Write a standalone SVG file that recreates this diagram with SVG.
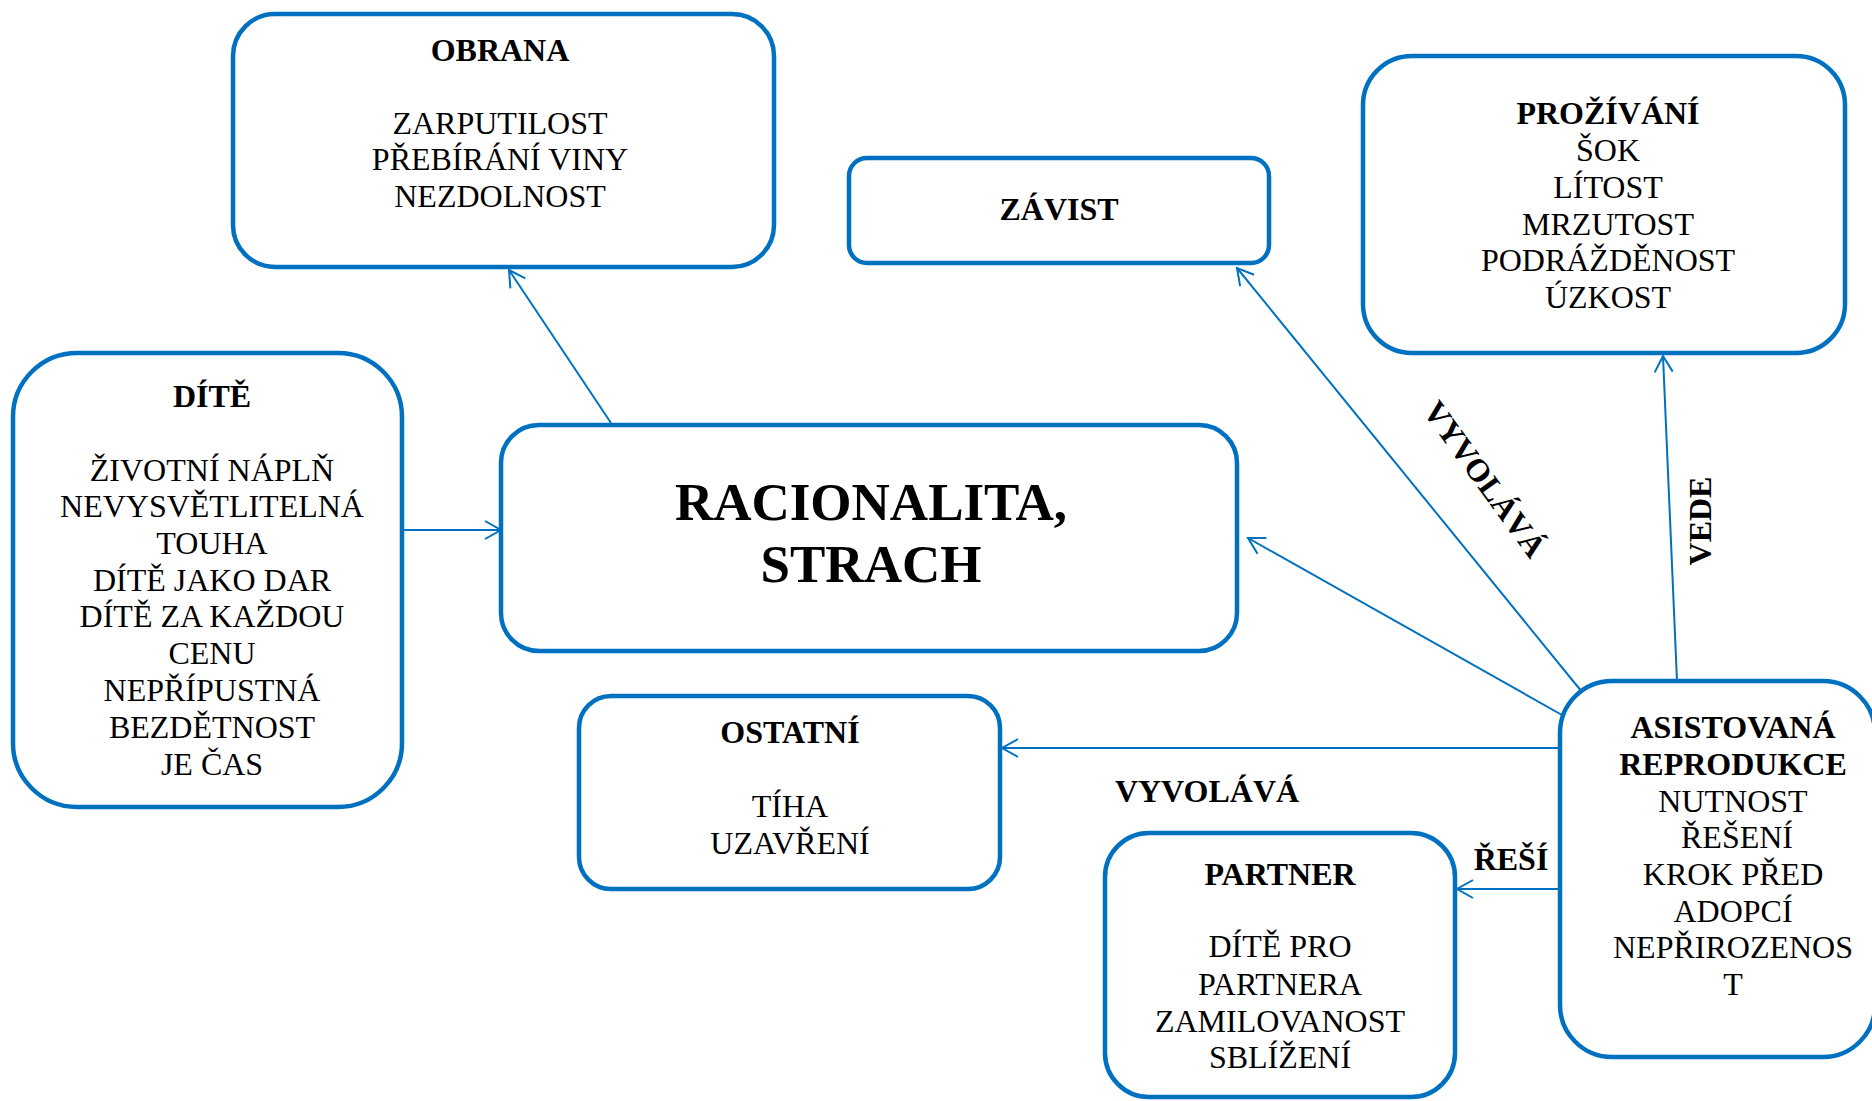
<svg xmlns="http://www.w3.org/2000/svg" width="1872" height="1101" viewBox="0 0 1872 1101" font-family="'Liberation Serif', 'Times New Roman', Tinos, 'DejaVu Serif', serif">
  <style>
    .box { fill: #ffffff; stroke: #0070C0; stroke-width: 4.5; }
    .edge { stroke: #0070C0; stroke-width: 2; fill: none; marker-end: url(#arr); }
    text { font-family: 'Liberation Serif', 'Times New Roman', Tinos, 'DejaVu Serif', serif; fill: #000000; text-anchor: middle; }
    .t { font-size: 32px; font-weight: bold; }
    .b { font-size: 32px; }
    .big { font-size: 53px; font-weight: bold; }
    .lbl { font-size: 32px; font-weight: bold; }
  </style>
  <defs>
    <marker id="arr" viewBox="-20 -12 24 24" refX="0" refY="0" markerWidth="24" markerHeight="24" markerUnits="userSpaceOnUse" orient="auto" overflow="visible">
      <path d="M-16,-9 L0,0 L-16,9" fill="none" stroke="#0070C0" stroke-width="2"/>
    </marker>
  </defs>

  <rect width="1872" height="1101" fill="#ffffff"/>

  <!-- connectors -->
  <g id="connectors">
    <line class="edge" x1="611" y1="423" x2="509" y2="270"/>
    <line class="edge" x1="402" y1="530" x2="501" y2="530"/>
    <line class="edge" x1="1582" y1="692" x2="1237" y2="268"/>
    <line class="edge" x1="1562" y1="715" x2="1248" y2="538"/>
    <line class="edge" x1="1677" y1="681" x2="1663" y2="356"/>
    <line class="edge" x1="1560" y1="748" x2="1002" y2="748"/>
    <line class="edge" x1="1560" y1="889" x2="1457" y2="889"/>
  </g>

  <!-- connector labels -->
  <g id="labels">
    <text class="lbl" transform="translate(1485,479) rotate(54)" x="0" y="11">VYVOLÁVÁ</text>
    <text class="lbl" transform="translate(1700,521) rotate(-90)" x="0" y="11">VEDE</text>
    <text class="lbl" x="1207" y="802">VYVOLÁVÁ</text>
    <text class="lbl" x="1511" y="870">ŘEŠÍ</text>
  </g>

  <!-- nodes -->
  <g id="obrana">
    <rect class="box" x="233" y="14" width="541" height="253" rx="42" ry="42"/>
    <text class="t" x="500" y="61">OBRANA</text>
    <text class="b" x="500" y="134">ZARPUTILOST</text>
    <text class="b" x="500" y="170">PŘEBÍRÁNÍ VINY</text>
    <text class="b" x="500" y="207">NEZDOLNOST</text>
  </g>

  <g id="zavist">
    <rect class="box" x="849" y="158" width="420" height="105" rx="18" ry="18"/>
    <text class="t" x="1059" y="220">ZÁVIST</text>
  </g>

  <g id="prozivani">
    <rect class="box" x="1363" y="56" width="482" height="297" rx="49" ry="49"/>
    <text class="t" x="1608" y="124">PROŽÍVÁNÍ</text>
    <text class="b" x="1608" y="161">ŠOK</text>
    <text class="b" x="1608" y="198">LÍTOST</text>
    <text class="b" x="1608" y="235">MRZUTOST</text>
    <text class="b" x="1608" y="271">PODRÁŽDĚNOST</text>
    <text class="b" x="1608" y="308">ÚZKOST</text>
  </g>

  <g id="dite">
    <rect class="box" x="13" y="353" width="389" height="454" rx="64" ry="64"/>
    <text class="t" x="212" y="407">DÍTĚ</text>
    <text class="b" x="212" y="481">ŽIVOTNÍ NÁPLŇ</text>
    <text class="b" x="212" y="517">NEVYSVĚTLITELNÁ</text>
    <text class="b" x="212" y="554">TOUHA</text>
    <text class="b" x="212" y="591">DÍTĚ JAKO DAR</text>
    <text class="b" x="212" y="627">DÍTĚ ZA KAŽDOU</text>
    <text class="b" x="212" y="664">CENU</text>
    <text class="b" x="212" y="701">NEPŘÍPUSTNÁ</text>
    <text class="b" x="212" y="738">BEZDĚTNOST</text>
    <text class="b" x="212" y="775">JE ČAS</text>
  </g>

  <g id="racionalita">
    <rect class="box" x="501" y="425" width="736" height="226" rx="38" ry="38"/>
    <text class="big" x="871" y="520">RACIONALITA,</text>
    <text class="big" x="871" y="582">STRACH</text>
  </g>

  <g id="ostatni">
    <rect class="box" x="579" y="696" width="421" height="193" rx="32" ry="32"/>
    <text class="t" x="790" y="743">OSTATNÍ</text>
    <text class="b" x="790" y="817">TÍHA</text>
    <text class="b" x="790" y="854">UZAVŘENÍ</text>
  </g>

  <g id="partner">
    <rect class="box" x="1105" y="833" width="350" height="264" rx="44" ry="44"/>
    <text class="t" x="1280" y="885">PARTNER</text>
    <text class="b" x="1280" y="957">DÍTĚ PRO</text>
    <text class="b" x="1280" y="995">PARTNERA</text>
    <text class="b" x="1280" y="1032">ZAMILOVANOST</text>
    <text class="b" x="1280" y="1068">SBLÍŽENÍ</text>
  </g>

  <g id="asistovana">
    <rect class="box" x="1560" y="681" width="315" height="376" rx="52" ry="52"/>
    <text class="t" x="1733" y="738">ASISTOVANÁ</text>
    <text class="t" x="1733" y="775">REPRODUKCE</text>
    <text class="b" x="1733" y="812">NUTNOST</text>
    <text class="b" x="1737" y="848">ŘEŠENÍ</text>
    <text class="b" x="1733" y="885">KROK PŘED</text>
    <text class="b" x="1733" y="922">ADOPCÍ</text>
    <text class="b" x="1733" y="958">NEPŘIROZENOS</text>
    <text class="b" x="1733" y="995">T</text>
  </g>
</svg>
